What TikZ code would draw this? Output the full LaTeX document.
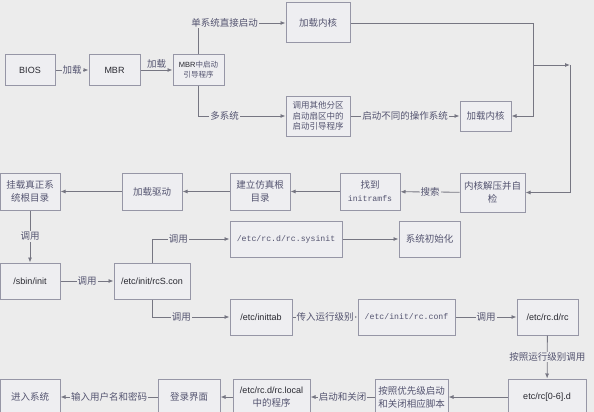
\documentclass[tikz,border=0pt]{standalone}
\usepackage{fontspec}
\setmainfont{Liberation Sans}
\newfontfamily\cjk{Noto Sans CJK SC}
\newfontfamily\mono{Liberation Mono}
\usetikzlibrary{arrows.meta}
\definecolor{pagebg}{RGB}{236,236,236}
\definecolor{boxfill}{RGB}{238,238,241}
\definecolor{boxline}{RGB}{150,150,166}
\definecolor{wire}{RGB}{118,118,130}
\definecolor{zhtext}{RGB}{84,84,112}
\definecolor{entext}{RGB}{40,40,48}

\begin{document}
\begin{tikzpicture}[x=1pt,y=-1pt,
  box/.style={draw=boxline,fill=boxfill,line width=1pt,inner sep=0pt,align=center,
    text=zhtext,font=\cjk\fontsize{9.5}{13}\selectfont},
  en/.style={text=entext,font=\fontsize{9}{12}\selectfont},
  tt/.style={text=zhtext,font=\mono\fontsize{8.2}{12}\selectfont},
  lbl/.style={fill=pagebg,inner sep=1pt,text=zhtext,font=\cjk\fontsize{9.5}{11}\selectfont},
  arr/.style={draw=wire,line width=0.8pt,-{Latex[length=5pt,width=4pt]}},
  wire/.style={draw=wire,line width=0.8pt}]
  \useasboundingbox (0,0) rectangle (594,412);
  \fill[pagebg] (0,0) rectangle (594,412);

  % boot loader part
  \node[box,en,minimum width=50,minimum height=30] (bios) at (30,70) {BIOS};
  \node[box,en,minimum width=51,minimum height=30] (mbr) at (114.5,70) {MBR};
  \node[box,minimum width=51,minimum height=30,font=\cjk\fontsize{7.5}{10}\selectfont] (mbrboot) at (198.5,70)
    {{\color{entext}\normalfont\fontsize{7.5}{10}\selectfont MBR}中启动\\引导程序};
  \node[box,minimum width=64,minimum height=40] (kern1) at (318,23) {加载内核};
  \node[box,minimum width=64,minimum height=40,font=\cjk\fontsize{8.5}{10.5}\selectfont] (other) at (318,116)
    {调用其他分区\\启动扇区中的\\启动引导程序};
  \node[box,minimum width=51,minimum height=30] (kern2) at (485.5,116) {加载内核};

  % kernel part
  \node[box,minimum width=65,minimum height=39] (selfchk) at (492.5,192.5) {内核解压并自\\检};
  \node[box,minimum width=60,minimum height=37] (initrd) at (370,191.5) {找到\\{\mono\fontsize{8.2}{12}\selectfont initramfs}};
  \node[box,minimum width=60,minimum height=37] (fakeroot) at (260,191.5) {建立仿真根\\目录};
  \node[box,minimum width=60,minimum height=37] (driver) at (152,191.5) {加载驱动};
  \node[box,minimum width=60,minimum height=37] (mount) at (30,191.5) {挂载真正系\\统根目录};

  % init part
  \node[box,tt,minimum width=112,minimum height=36] (sysinit) at (286,239) {/etc/rc.d/rc.sysinit};
  \node[box,minimum width=61,minimum height=36] (sysini) at (429.5,239) {系统初始化};
  \node[box,en,minimum width=60,minimum height=36] (init) at (30,281) {/sbin/init};
  \node[box,en,minimum width=76,minimum height=36] (rcs) at (152,281) {/etc/init/rcS.con};
  \node[box,en,minimum width=62,minimum height=36] (inittab) at (261,317) {/etc/inittab};
  \node[box,tt,minimum width=97,minimum height=36] (rcconf) at (406.5,317) {/etc/init/rc.conf};
  \node[box,en,minimum width=61,minimum height=36] (rcd) at (547.5,317) {/etc/rc.d/rc};
  \node[box,en,minimum width=78,minimum height=36] (rcnd) at (547,397) {etc/rc[0-6].d};
  \node[box,minimum width=73,minimum height=36] (prio) at (411.5,397) {按照优先级启动\\和关闭相应脚本};
  \node[box,minimum width=77,minimum height=36] (rclocal) at (271.5,397)
    {{\color{entext}\normalfont\fontsize{9}{12}\selectfont /etc/rc.d/rc.local}\\中的程序};
  \node[box,minimum width=62,minimum height=36] (login) at (189,397) {登录界面};
  \node[box,minimum width=60,minimum height=36] (enter) at (30,397) {进入系统};

  \coordinate (c1) at (533,116);
  \coordinate (j1) at (533,65);
  \coordinate (j2) at (570,65);

  \draw[arr] (bios) -- node[lbl] {加载} (mbr);
  \draw[arr] (mbr) -- node[lbl,yshift=6pt,fill=none] {加载} (mbrboot);
  \draw[arr] (mbrboot.north) |- node[lbl,pos=0.65] {单系统直接启动} (kern1.west);
  \draw[arr] (mbrboot.south) |- node[lbl,pos=0.65] {多系统} (other.west);
  \draw[arr] (other) -- node[lbl] {启动不同的操作系统} (kern2);
  \draw[arr] (kern1.east) -| (c1) -- (kern2.east);
  \draw[arr] (j1) -- (j2);
  \draw[arr] (j2) |- (selfchk.east);
  \draw[arr] (selfchk) -- node[lbl] {搜索} (initrd);
  \draw[arr] (initrd) -- (fakeroot);
  \draw[arr] (fakeroot) -- (driver);
  \draw[arr] (driver) -- (mount);
  \draw[arr] (mount) -- node[lbl] {调用} (init);
  \draw[arr] (init) -- node[lbl] {调用} (rcs);
  \draw[arr] (rcs.north) |- node[lbl,pos=0.67] {调用} (sysinit.west);
  \draw[arr] (sysinit) -- (sysini);
  \draw[arr] (rcs.south) |- node[lbl,pos=0.69] {调用} (inittab.west);
  \draw[arr] (inittab) -- node[lbl] {传入运行级别} (rcconf);
  \draw[arr] (rcconf) -- node[lbl] {调用} (rcd);
  \draw[arr] (rcd) -- node[lbl] {按照运行级别调用} (rcnd);
  \draw[arr] (rcnd) -- (prio);
  \draw[arr] (prio) -- node[lbl] {启动和关闭} (rclocal);
  \draw[arr] (rclocal) -- (login);
  \draw[arr] (login) -- node[lbl] {输入用户名和密码} (enter);
\end{tikzpicture}
\end{document}
